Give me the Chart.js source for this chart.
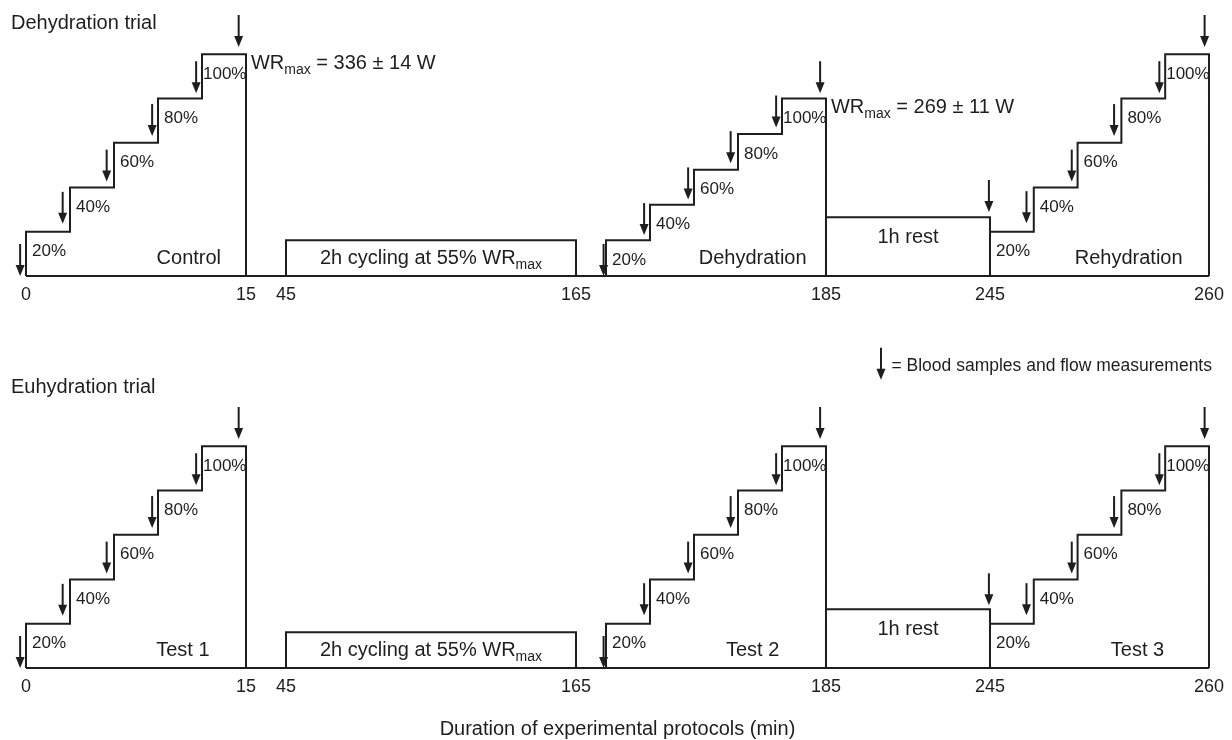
<!DOCTYPE html>
<html>
<head>
<meta charset="utf-8">
<script src="https://cdn.jsdelivr.net/npm/chart.js@4.4.1/dist/chart.umd.min.js"></script>
<style>
  html, body { margin: 0; padding: 0; background: #fff; }
  .panel { position: absolute; left: 0; width: 1232px; }
  #topPanel { top: 0; height: 320px; }
  #bottomPanel { top: 320px; height: 420px; }
</style>
</head>
<body>
<div class="panel" id="topPanel"><canvas id="dehydrationChart"></canvas></div>
<div class="panel" id="bottomPanel"><canvas id="euhydrationChart"></canvas></div>
<script>
// broken time axis: break points (min) and drawn length of each segment
const axisBreaks = [0, 15, 45, 165, 170, 185, 245, 260];
const segmentLengths = [220, 40, 290, 30, 220, 164, 219];
const tickMinutes = [0, 15, 45, 165, 185, 245, 260];

const stepLabels = ['20%', '40%', '60%', '80%', '100%'];
const test1Starts = [0, 3, 6, 9, 12];
const test2Starts = [170, 173, 176, 179, 182];
const test3Starts = [245, 248, 251, 254, 257];
const testEnds = [15, 185, 260];

// workload of each step (W)
const controlWatts = [67, 134, 202, 269, 336];
const dehydrationWatts = [54, 108, 161, 215, 269];
const rehydrationWatts = [67, 134, 202, 269, 336];
const euhydrationWatts = [67, 134, 202, 269, 336];

const cyclingWindow = [45, 165];
const cyclingHeight = 54;
const restWindow = [185, 245];
const restHeight = 89;

// blood samples: time (min) and arrow tip (W)
const sampleTimes = [-0.4, 2.5, 5.5, 8.6, 11.6, 14.5, 169.6, 172.6, 175.6, 178.5, 181.6, 184.6, 244.6, 247.5, 250.6, 253.5, 256.6, 259.7];
const dehydrationTips = [0, 79, 143, 212, 277, 347, 0, 62, 116, 171, 225, 277, 97, 80, 143, 212, 277, 347];
const euhydrationTips = [0, 79, 143, 212, 277, 347, 0, 80, 143, 212, 277, 347, 95, 80, 143, 212, 277, 347];

const FONT = '"Liberation Sans", Arial, Helvetica, sans-serif';
const INK = '#1e1e1e';
Chart.defaults.font.family = FONT;
Chart.defaults.color = INK;

function font(size) { return size + 'px ' + FONT; }

// linear scale with the time breaks of the original figure
class BrokenTimeScale extends Chart.LinearScale {
  static id = 'brokenTime';
  static defaults = {};
  getPixelForValue(value) {
    if (value === null || value === undefined) return NaN;
    const total = segmentLengths.reduce((a, b) => a + b, 0);
    let pos = 0, i = 0;
    while (i < segmentLengths.length - 1 && value > axisBreaks[i + 1]) {
      pos += segmentLengths[i];
      i++;
    }
    pos += (value - axisBreaks[i]) / (axisBreaks[i + 1] - axisBreaks[i]) * segmentLengths[i];
    return this.getPixelForDecimal(pos / total);
  }
  getValueForPixel(pixel) {
    const total = segmentLengths.reduce((a, b) => a + b, 0);
    let pos = this.getDecimalForPixel(pixel) * total, i = 0;
    while (i < segmentLengths.length - 1 && pos > segmentLengths[i]) {
      pos -= segmentLengths[i];
      i++;
    }
    return axisBreaks[i] + pos / segmentLengths[i] * (axisBreaks[i + 1] - axisBreaks[i]);
  }
}
Chart.register(BrokenTimeScale);

function stepPoints(starts, watts, end) {
  const pts = [{ x: starts[0], y: 0 }];
  starts.forEach((t, i) => pts.push({ x: t, y: watts[i] }));
  pts.push({ x: end, y: 0 });
  return pts;
}

function boxPoints(win, h) {
  return [{ x: win[0], y: 0 }, { x: win[0], y: h }, { x: win[1], y: h }, { x: win[1], y: 0 }];
}

function outline(data, stepped) {
  return {
    data: data,
    stepped: stepped,
    borderColor: INK,
    borderWidth: 2,
    borderJoinStyle: 'miter',
    pointRadius: 0,
    fill: false,
    clip: false,
  };
}

function drawArrow(ctx, x, tipY) {
  ctx.beginPath();
  ctx.moveTo(x, tipY - 32);
  ctx.lineTo(x, tipY - 9);
  ctx.stroke();
  ctx.beginPath();
  ctx.moveTo(x - 4.5, tipY - 11);
  ctx.lineTo(x + 4.5, tipY - 11);
  ctx.lineTo(x, tipY);
  ctx.closePath();
  ctx.fill();
}

// "WR" + subscript "max" + tail
function wrWidth(ctx, tail) {
  ctx.font = font(20);
  let w = ctx.measureText('WR').width + ctx.measureText(tail).width;
  ctx.font = font(14);
  return w + ctx.measureText('max').width;
}
function drawWR(ctx, x, y, head, tail) {
  ctx.textAlign = 'left';
  ctx.font = font(20);
  ctx.fillText(head + 'WR', x, y);
  x += ctx.measureText(head + 'WR').width;
  ctx.font = font(14);
  ctx.fillText('max', x, y + 5);
  x += ctx.measureText('max').width;
  ctx.font = font(20);
  ctx.fillText(tail, x, y);
}

const protocolLabels = {
  id: 'protocolLabels',
  afterDatasetsDraw(chart, args, opts) {
    const { ctx, chartArea } = chart;
    const xs = chart.scales.x, ys = chart.scales.y;
    const base = ys.getPixelForValue(0);
    ctx.save();
    ctx.fillStyle = INK;
    ctx.strokeStyle = INK;
    ctx.lineWidth = 2;
    ctx.textBaseline = 'alphabetic';

    ctx.font = font(20);
    ctx.textAlign = 'left';
    ctx.fillText(opts.title, 11, opts.titleY);

    if (opts.legend) {
      ctx.font = font(17.5);
      ctx.textAlign = 'right';
      const txt = '= Blood samples and flow measurements';
      const right = chartArea.right + 3;
      ctx.fillText(txt, right, opts.legendY);
      drawArrow(ctx, right - ctx.measureText(txt).width - 10.5, opts.legendY + 9);
    }

    opts.tests.forEach(test => {
      ctx.font = font(17);
      ctx.textAlign = 'left';
      test.starts.forEach((t, i) => {
        const next = i < test.starts.length - 1 ? test.starts[i + 1] : test.end;
        const px = xs.getPixelForValue(t);
        const stepPx = xs.getPixelForValue(next) - px;
        const w = ctx.measureText(stepLabels[i]).width;
        const off = Math.max(1, Math.min(6, stepPx - w));
        ctx.fillText(stepLabels[i], px + off, ys.getPixelForValue(test.watts[i]) + 24.5);
      });
      ctx.font = font(20);
      ctx.textAlign = 'center';
      ctx.fillText(test.name, xs.getPixelForValue(test.nameAt), base - 12);
      if (test.wr) {
        const top = ys.getPixelForValue(test.watts[test.watts.length - 1]);
        drawWR(ctx, xs.getPixelForValue(test.end) + 5, top + 14.5, '', test.wr);
      }
    });

    // cycling box label, centred in the box
    const cycTail = ' ';
    const cx = (xs.getPixelForValue(cyclingWindow[0]) + xs.getPixelForValue(cyclingWindow[1])) / 2;
    const cyMid = ys.getPixelForValue(cyclingHeight / 2);
    ctx.font = font(20);
    const head = '2h cycling at 55% ';
    const full = ctx.measureText(head).width + wrWidth(ctx, '');
    drawWR(ctx, cx - full / 2, cyMid + 6, head, '');

    // rest box label
    ctx.font = font(20);
    ctx.textAlign = 'center';
    const rx = (xs.getPixelForValue(restWindow[0]) + xs.getPixelForValue(restWindow[1])) / 2;
    ctx.fillText('1h rest', rx, ys.getPixelForValue(restHeight) + 25.5);

    // sampling arrows
    opts.sampleTimes.forEach((t, i) => {
      drawArrow(ctx, xs.getPixelForValue(t), ys.getPixelForValue(opts.sampleTips[i]));
    });
    ctx.restore();
  }
};

function makePanel(canvasId, cfg) {
  const datasets = [
    outline([{ x: 0, y: 0 }, { x: 260, y: 0 }], false),
    outline(stepPoints(test1Starts, cfg.watts[0], testEnds[0]), true),
    outline(boxPoints(cyclingWindow, cyclingHeight), false),
    outline(stepPoints(test2Starts, cfg.watts[1], testEnds[1]), true),
    outline(boxPoints(restWindow, restHeight), false),
    outline(stepPoints(test3Starts, cfg.watts[2], testEnds[2]), true),
  ];
  return new Chart(document.getElementById(canvasId), {
    type: 'line',
    data: { datasets: datasets },
    plugins: [protocolLabels],
    options: {
      responsive: true,
      maintainAspectRatio: false,
      animation: false,
      layout: { padding: cfg.padding },
      plugins: {
        legend: { display: false },
        tooltip: { enabled: false },
        protocolLabels: {
          title: cfg.title,
          titleY: cfg.titleY,
          legend: cfg.legend,
          legendY: cfg.legendY,
          sampleTimes: sampleTimes,
          sampleTips: cfg.tips,
          tests: [
            { starts: test1Starts, watts: cfg.watts[0], end: testEnds[0], name: cfg.names[0], nameAt: cfg.nameAt[0], wr: cfg.wr[0] },
            { starts: test2Starts, watts: cfg.watts[1], end: testEnds[1], name: cfg.names[1], nameAt: cfg.nameAt[1], wr: cfg.wr[1] },
            { starts: test3Starts, watts: cfg.watts[2], end: testEnds[2], name: cfg.names[2], nameAt: cfg.nameAt[2], wr: null },
          ],
        },
      },
      scales: {
        x: {
          type: 'brokenTime',
          min: 0,
          max: 260,
          afterBuildTicks: axis => { axis.ticks = tickMinutes.map(v => ({ value: v })); },
          ticks: {
            autoSkip: false,
            maxRotation: 0,
            padding: 8,
            color: INK,
            font: { size: 18 },
            callback: v => String(v),
          },
          grid: { display: false, drawTicks: false },
          border: { display: false },
          title: cfg.axisTitle
            ? { display: true, text: 'Duration of experimental protocols (min)', color: INK,
                font: { size: 20, lineHeight: 1 }, padding: { top: 14, bottom: 0 } }
            : { display: false },
        },
        y: { display: false, min: 0, max: 400 },
      },
    },
  });
}

makePanel('dehydrationChart', {
  title: 'Dehydration trial',
  titleY: 29,
  legend: false,
  watts: [controlWatts, dehydrationWatts, rehydrationWatts],
  names: ['Control', 'Dehydration', 'Rehydration'],
  nameAt: [11.1, 180, 254.5],
  wr: [' = 336 ± 14 W', ' = 269 ± 11 W'],
  tips: dehydrationTips,
  axisTitle: false,
  padding: { left: 26, right: 23, top: 12, bottom: 6.4 },
});

makePanel('euhydrationChart', {
  title: 'Euhydration trial',
  titleY: 72.7,
  legend: true,
  legendY: 50.7,
  watts: [controlWatts, euhydrationWatts, rehydrationWatts],
  names: ['Test 1', 'Test 2', 'Test 3'],
  nameAt: [10.7, 180, 255.1],
  wr: [null, null],
  tips: euhydrationTips,
  axisTitle: true,
  padding: { left: 26, right: 23, top: 84, bottom: 0.4 },
});
</script>
</body>
</html>
